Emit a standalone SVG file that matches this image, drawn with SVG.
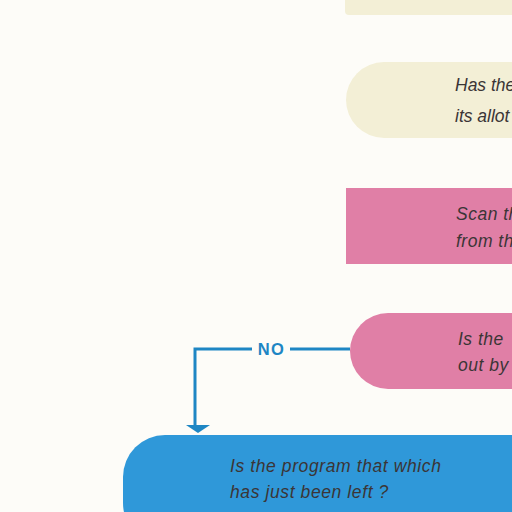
<svg xmlns="http://www.w3.org/2000/svg" width="512" height="512" viewBox="0 0 512 512">
<style>
.t{font-family:"Liberation Sans",Arial,sans-serif;font-style:italic;font-size:17.5px;fill:#3b3536}
.cream{fill:#f3efd6}
.pink{fill:#e07fa6}
.blue{fill:#2f98d9}
.conn{stroke:#1e86c4;stroke-width:3;fill:none}
.lbl{font-family:"Liberation Sans",Arial,sans-serif;font-weight:bold;font-size:16.5px;fill:#1e86c4;letter-spacing:1.5px}
</style>
<rect width="512" height="512" fill="#fdfcf8"/>
<g id="node-top">
<rect class="cream" x="345" y="-30" width="200" height="45" rx="4"/>
</g>
<g id="node-allotted">
<rect class="cream" x="346" y="62" width="220" height="76" rx="38"/>
<text class="t" x="455" y="91">Has the</text>
<text class="t" x="455" y="122">its allot</text>
</g>
<g id="node-scan">
<rect class="pink" x="346" y="188" width="180" height="76"/>
<text class="t" x="456" y="220" letter-spacing="0.5">Scan th</text>
<text class="t" x="456" y="247" letter-spacing="0.5">from th</text>
</g>
<g id="node-isthe">
<rect class="pink" x="350" y="313" width="220" height="76" rx="38"/>
<text class="t" x="458" y="345" letter-spacing="0.5">Is the</text>
<text class="t" x="458" y="371" letter-spacing="0.5">out by</text>
</g>
<g id="node-program">
<rect class="blue" x="123" y="435" width="440" height="110" rx="42"/>
<text class="t" x="230" y="472" letter-spacing="0.6" fill="#33414d">Is the program that which</text>
<text class="t" x="230" y="498" letter-spacing="0.6">has just been left ?</text>
</g>
<g id="connectors">
<polyline class="conn" points="350,349 290,349"/>
<polyline class="conn" points="252,349 195,349 195,425"/>
<polygon points="186,425 210,425 198,433" fill="#1e86c4"/>
<text class="lbl" x="271.5" y="355" text-anchor="middle">NO</text>
</g>
</svg>
